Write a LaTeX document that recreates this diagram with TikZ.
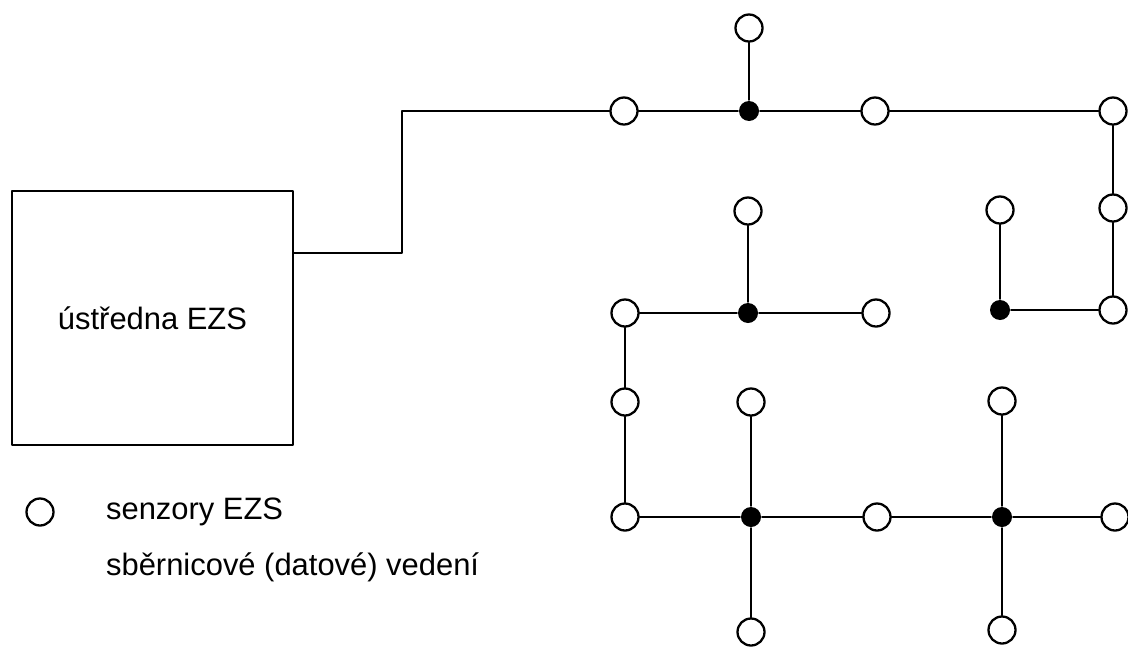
\documentclass[tikz,border=0pt]{standalone}
\usepackage{fontspec}
\setmainfont{Liberation Sans}
\begin{document}
\begin{tikzpicture}[x=0.02cm, y=-0.02cm, line join=round, line cap=round, line width=1.3pt,
    senzor/.style={circle, draw, fill=white, inner sep=0pt, minimum size=0.54cm},
    uzel/.style={circle, fill, inner sep=0pt, minimum size=0.4cm},
    popis/.style={font=\fontsize{17.6}{21}\selectfont, inner sep=0pt}]
\useasboundingbox (0,0) rectangle (1128,646);
% ustredna a vyvod sbernice
\node[draw, popis, minimum width=5.62cm, minimum height=5.08cm] (ustredna) at (152.5,318) {ústředna EZS};
\coordinate (ohyb) at (402,253);
% horni vetev
\node[senzor] (s1) at (624,111) {};
\node[uzel]   (j1) at (749,111) {};
\node[senzor] (s2) at (749,28) {};
\node[senzor] (s3) at (875,111) {};
\node[senzor] (s4) at (1113,111) {};
\node[senzor] (s5) at (1113,208) {};
\node[senzor] (s6) at (1113,310) {};
\node[uzel]   (j2) at (1000,310) {};
\node[senzor] (s7) at (1000,210) {};
% stredni a dolni vetev
\node[senzor] (s8) at (748,211) {};
\node[uzel]   (j3) at (748,313) {};
\node[senzor] (s9) at (625,313) {};
\node[senzor] (s10) at (876,313) {};
\node[senzor] (s11) at (625,402) {};
\node[senzor] (s12) at (625,517) {};
\node[uzel]   (j4) at (751,517) {};
\node[senzor] (s13) at (751,402) {};
\node[senzor] (s14) at (751,632) {};
\node[senzor] (s15) at (877,517) {};
\node[uzel]   (j5) at (1002,517) {};
\node[senzor] (s16) at (1002,401) {};
\node[senzor] (s17) at (1002,630) {};
\node[senzor] (s18) at (1115,517) {};
        \draw (ustredna.east |- ohyb) -- (ohyb) |- (s1);
        \draw (s1) -- (j1) -- (s3) -- (s4) -- (s5) -- (s6) -- (j2) -- (s7);
        \draw (j1) -- (s2);
        \draw (s10) -- (j3) -- (s9) -- (s11) -- (s12) -- (j4) -- (s15) -- (j5) -- (s18);
        \draw (j3) -- (s8);
        \draw (s13) -- (j4) -- (s14);
        \draw (s16) -- (j5) -- (s17);
% legenda
\node[senzor] (leg) at (40,512) {};
\node[popis, anchor=west] (leg1) at (105,512) {senzory EZS};
\node[popis, anchor=west] (leg2) at (105,567) {sběrnicové (datové) vedení};
    \end{tikzpicture}
\end{document}
